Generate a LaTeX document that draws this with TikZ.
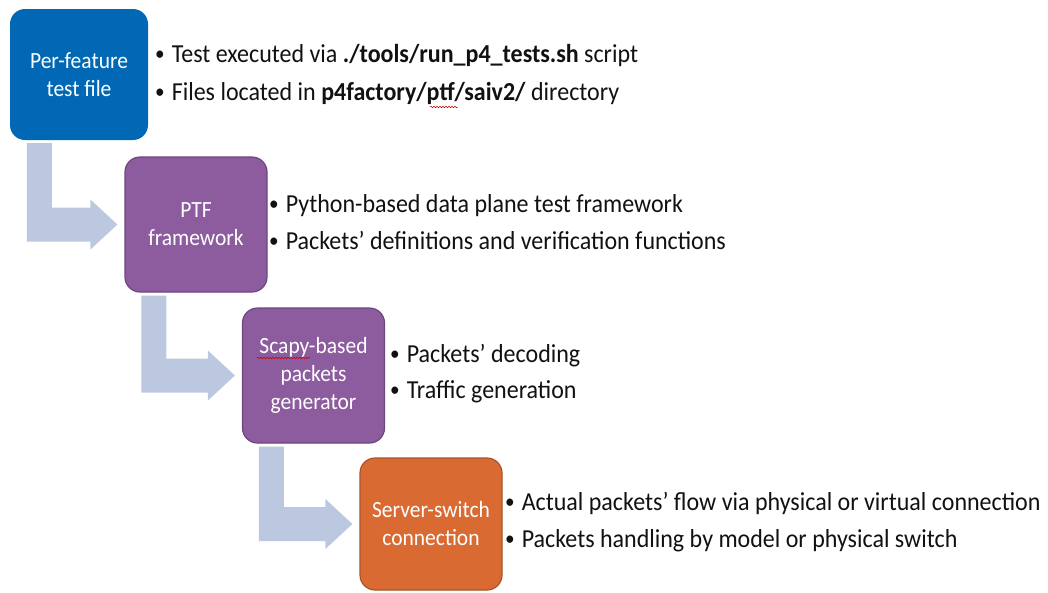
\documentclass[tikz,border=0pt]{standalone}
\usepackage{fontspec}
\setmainfont{Carlito}
\usetikzlibrary{calc,decorations.pathmorphing}

\definecolor{stepblue}{HTML}{0068B5}
\definecolor{steppurple}{HTML}{8C5C9E}
\definecolor{steppurpleedge}{HTML}{6C4680}
\definecolor{steporange}{HTML}{D96A32}
\definecolor{steporangeedge}{HTML}{A8532A}
\definecolor{flowgray}{HTML}{BCC8DF}
\definecolor{bodytext}{HTML}{111111}

% slightly taller letter shapes
\newcommand\tallish[1]{\scalebox{1}[1.08]{#1}}
\newcommand\smallbullet{\raisebox{1.5pt}{\scalebox{0.8}{•}}}
\newcommand\itemline[1]{\tallish{\smallbullet\hspace{7pt}#1}}

\tikzset{
  stagebox/.style={rounded corners=15pt, align=center, text=white,
    font=\fontsize{21.5}{28}\selectfont, inner sep=0pt},
  bluebox/.style={stagebox, fill=stepblue, minimum width=138pt, minimum height=131pt},
  purplebox/.style={stagebox, fill=steppurple, draw=steppurpleedge, line width=1.2pt,
    minimum width=142pt, minimum height=135pt},
  orangebox/.style={stagebox, fill=steporange, draw=steporangeedge, line width=1.2pt,
    minimum width=142pt, minimum height=132pt},
  bulletline/.style={anchor=base west, inner sep=0pt, text=bodytext,
    font=\fontsize{24}{28}\selectfont},
  flow/.style={fill=flowgray},
  squiggle/.style={draw=red!80!black, line width=0.5pt,
    decorate, decoration={snake, amplitude=0.8pt, segment length=3pt}}
}

% bent arrow from the lower left of one stage to the west side of the next
\newcommand\bentarrow[2]{%
  \fill[flow] let \p1=(#1.south west), \p2=(#2.west) in
    (\x1+17pt,\y1-3pt) -- (\x1+42pt,\y1-3pt) -- (\x1+42pt,\y2+17pt)
    -- (\x2-34pt,\y2+17pt) -- (\x2-34pt,\y2+25pt) -- (\x2-7pt,\y2)
    -- (\x2-34pt,\y2-25pt) -- (\x2-34pt,\y2-17pt) -- (\x1+17pt,\y2-17pt) -- cycle;}

\begin{document}
\begin{tikzpicture}[x=1pt,y=-1pt]
\useasboundingbox (0,0) rectangle (1048,592);

% stages
\node[bluebox]   (s1) at (79,74.5)     {\tallish{Per-feature}\\\tallish{test file}};
\node[purplebox] (s2) at (196,224.5)   {\tallish{PTF}\\\tallish{framework}};
\node[purplebox] (s3) at (313.5,375.5) {\tallish{Scapy-based}\\\tallish{packets}\\\tallish{generator}};
\node[orangebox] (s4) at (431,524)     {\tallish{Server-switch}\\\tallish{connection}};

% flow between stages
\bentarrow{s1}{s2}
\bentarrow{s2}{s3}
\bentarrow{s3}{s4}

% descriptions
\node[bulletline] (d1a) at (155,62)  {\itemline{Test executed via \textbf{./tools/run\_p4\_tests.sh} script}};
\node[bulletline] (d1b) at (155,100) {\itemline{Files located in \textbf{p4factory/ptf/saiv2/} directory}};
\node[bulletline] (d2a) at (269,212) {\itemline{Python-based data plane test framework}};
\node[bulletline] (d2b) at (269,249) {\itemline{Packets’ definitions and verification functions}};
\node[bulletline] (d3a) at (390,362) {\itemline{Packets’ decoding}};
\node[bulletline] (d3b) at (390,398) {\itemline{Traffic generation}};
\node[bulletline] (d4a) at (505,510) {\itemline{Actual packets’ flow via physical or virtual connection}};
\node[bulletline] (d4b) at (505,547) {\itemline{Packets handling by model or physical switch}};

% spell-check marks
\draw[squiggle] (257,358) -- (310,358);
\draw[squiggle] (430,107) -- (458,107);
\end{tikzpicture}
\end{document}
